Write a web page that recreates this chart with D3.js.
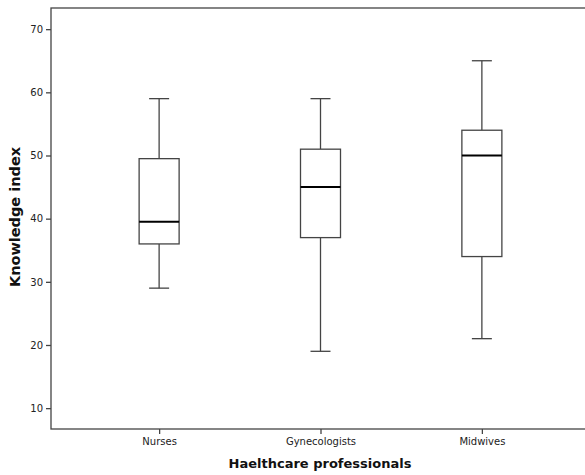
<!DOCTYPE html>
<html>
<head>
<meta charset="utf-8">
<script src="https://cdn.jsdelivr.net/npm/d3@7"></script>
<style>
  body { margin: 0; background: #fff; }
  svg text { font-family: "DejaVu Sans", sans-serif; }
</style>
</head>
<body>
<div class="canvas"></div>
<script>
// data
const groups = ['Nurses', 'Gynecologists', 'Midwives'];
const whiskerLow = [29, 19, 21];
const q1 = [36, 37, 34];
const medians = [39.5, 45, 50];
const q3 = [49.5, 51, 54];
const whiskerHigh = [59, 59, 65];
const yTicks = [10, 20, 30, 40, 50, 60, 70];

const data = groups.map((g, i) => ({
    name: g, lo: whiskerLow[i], q1: q1[i], med: medians[i], q3: q3[i], hi: whiskerHigh[i]
}));

const svg = d3.select('.canvas').append('svg')
    .attr('width', 585)
    .attr('height', 475);

const margin = { left: 51, top: 8, right: -5, bottom: 46 };
const graphWidth = 585 - margin.left - margin.right;
const graphHeight = 475 - margin.top - margin.bottom;

const graph = svg.append('g')
    .attr('transform', `translate(${margin.left},${margin.top})`);

// scales
const x = d3.scalePoint()
    .domain(groups)
    .range([0, graphWidth])
    .padding(0.67);

const y = d3.scaleLinear()
    .domain([6.7, 73.35])
    .range([graphHeight, 0]);

const lineCol = '#444';

// frame
graph.append('rect')
    .attr('width', graphWidth)
    .attr('height', graphHeight)
    .attr('fill', 'none')
    .attr('stroke', lineCol)
    .attr('stroke-width', 1.3);

// axes
const yAxis = d3.axisLeft(y).tickValues(yTicks).tickSize(5).tickPadding(3);
const xAxis = d3.axisBottom(x).tickSize(5).tickPadding(4);

const yAxisGroup = graph.append('g').call(yAxis);
const xAxisGroup = graph.append('g')
    .attr('transform', `translate(0,${graphHeight})`)
    .call(xAxis);

[yAxisGroup, xAxisGroup].forEach(g => {
    g.select('.domain').remove();
    g.selectAll('line').attr('stroke', lineCol).attr('stroke-width', 1.3);
    g.selectAll('text').attr('fill', '#222').style('font-size', '10px');
});

// boxes
const boxW = 40;
const capW = 20;
const boxes = graph.selectAll('g.box')
    .data(data)
    .enter().append('g')
    .attr('class', 'box')
    .attr('transform', d => `translate(${x(d.name)},0)`);

boxes.append('line')
    .attr('y1', d => y(d.hi)).attr('y2', d => y(d.q3))
    .attr('stroke', lineCol).attr('stroke-width', 1.3);
boxes.append('line')
    .attr('y1', d => y(d.q1)).attr('y2', d => y(d.lo))
    .attr('stroke', lineCol).attr('stroke-width', 1.3);
boxes.append('line')
    .attr('x1', -capW / 2).attr('x2', capW / 2)
    .attr('y1', d => y(d.hi)).attr('y2', d => y(d.hi))
    .attr('stroke', lineCol).attr('stroke-width', 1.3);
boxes.append('line')
    .attr('x1', -capW / 2).attr('x2', capW / 2)
    .attr('y1', d => y(d.lo)).attr('y2', d => y(d.lo))
    .attr('stroke', lineCol).attr('stroke-width', 1.3);
boxes.append('rect')
    .attr('x', -boxW / 2)
    .attr('width', boxW)
    .attr('y', d => y(d.q3))
    .attr('height', d => y(d.q1) - y(d.q3))
    .attr('fill', '#fff')
    .attr('stroke', lineCol).attr('stroke-width', 1.3);
boxes.append('line')
    .attr('x1', -boxW / 2).attr('x2', boxW / 2)
    .attr('y1', d => y(d.med)).attr('y2', d => y(d.med))
    .attr('stroke', '#000').attr('stroke-width', 2);

// axis titles
svg.append('text')
    .attr('x', 320)
    .attr('y', 468)
    .attr('text-anchor', 'middle')
    .style('font-size', '13px')
    .style('font-weight', 'bold')
    .attr('fill', '#111')
    .text('Haelthcare professionals');

svg.append('text')
    .attr('transform', 'translate(20,217) rotate(-90)')
    .attr('text-anchor', 'middle')
    .style('font-size', '14.5px')
    .style('font-weight', 'bold')
    .attr('fill', '#111')
    .text('Knowledge index');
</script>
</body>
</html>
